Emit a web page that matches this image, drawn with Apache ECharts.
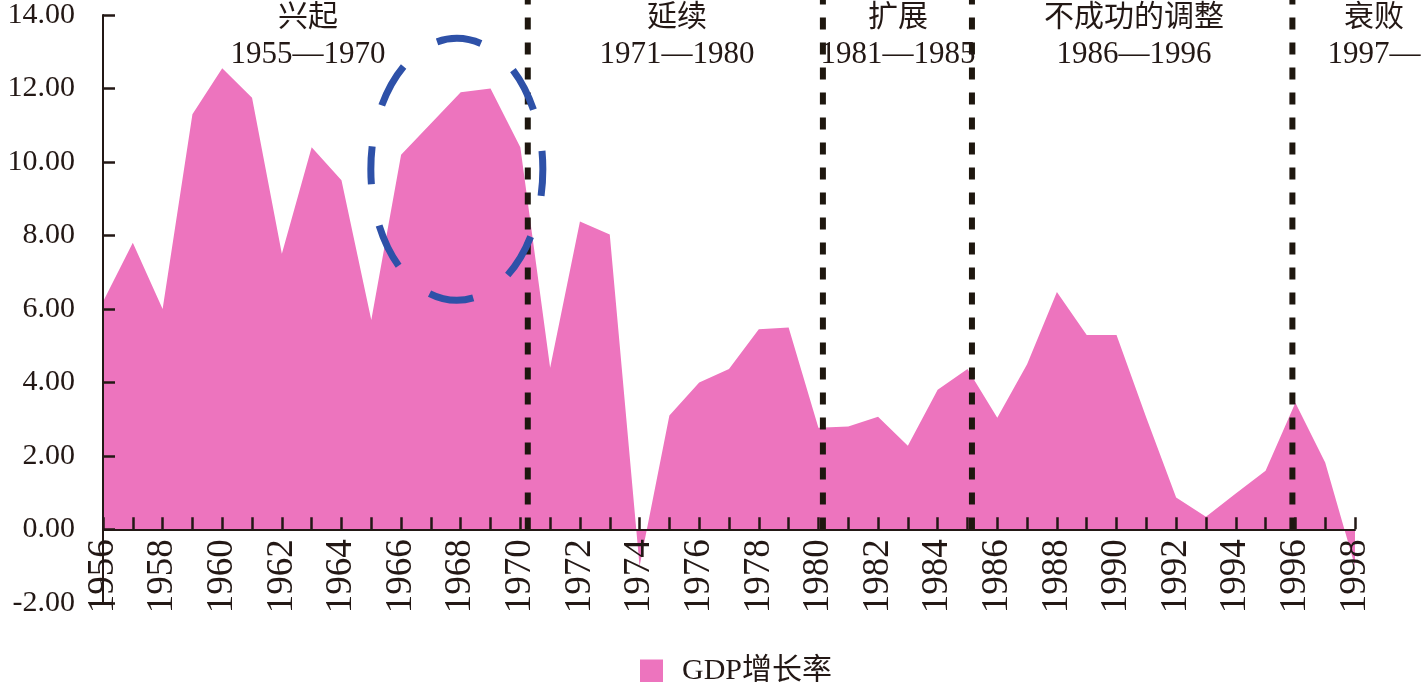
<!DOCTYPE html>
<html>
<head>
<meta charset="utf-8">
<script src="https://cdn.jsdelivr.net/npm/echarts@6/dist/echarts.min.js"></script>
<style>
    html, body { margin: 0; padding: 0; background: #fff; }
    #chart { width: 1422px; height: 682px; }
</style>
</head>
<body>
<div id="chart"></div>
<script type="text/javascript">
    // 数据
    var years = [1956, 1957, 1958, 1959, 1960, 1961, 1962, 1963, 1964, 1965,
                 1966, 1967, 1968, 1969, 1970, 1971, 1972, 1973, 1974, 1975,
                 1976, 1977, 1978, 1979, 1980, 1981, 1982, 1983, 1984, 1985,
                 1986, 1987, 1988, 1989, 1990, 1991, 1992, 1993, 1994, 1995,
                 1996, 1997, 1998];
    var gdpGrowth = [6.2, 7.8, 6.0, 11.3, 12.55, 11.75, 7.5, 10.4, 9.5, 5.7,
                     10.2, 11.05, 11.9, 12.0, 10.4, 4.4, 8.38, 8.03, -1.0, 3.1,
                     4.0, 4.37, 5.45, 5.5, 2.77, 2.8, 3.07, 2.28, 3.8, 4.37,
                     3.04, 4.5, 6.46, 5.29, 5.29, 3.04, 0.87, 0.35, 0.98, 1.6,
                     3.45, 1.82, -1.0];
    var yTicks = [-2, 0, 2, 4, 6, 8, 10, 12, 14];
    // 阶段分界
    var boundaries = [1970.25, 1980.15, 1985.15, 1995.9];
    var periods = [
        {name: "兴起", range: "1955—1970", x: 308},
        {name: "延续", range: "1971—1980", x: 677},
        {name: "扩展", range: "1981—1985", x: 898},
        {name: "不成功的调整", range: "1986—1996", x: 1134},
        {name: "衰败", range: "1997—", x: 1374}
    ];

    var serif = "'Liberation Serif', 'Noto Sans CJK SC', serif";
    var ink = "#231815";
    var pink = "#ED74BE";

    var gridTop = 13, gridBottom = 79, chartH = 682;
    var yMin = yTicks[0], yMax = yTicks[yTicks.length - 1];
    // x轴放在0处
    var zeroOffset = (chartH - gridTop - gridBottom) * (0 - yMin) / (yMax - yMin);

    var myChart = echarts.init(document.getElementById('chart'));

    var seriesData = years.map(function (y, i) { return [y, gdpGrowth[i]]; });

    myChart.setOption({
        animation: false,
        grid: { left: 103, right: 67, top: gridTop, bottom: gridBottom },
        legend: {
            data: ["GDP增长率"],
            left: 635,
            top: 651,
            icon: "rect",
            itemWidth: 23,
            itemHeight: 23,
            selectedMode: false,
            textStyle: { fontFamily: serif, fontSize: 30, color: ink, padding: [0, 0, 0, 14] }
        },
        xAxis: {
            type: "value",
            position: "bottom",
            offset: -zeroOffset,
            min: years[0],
            max: years[years.length - 1],
            interval: 1,
            zlevel: 1,
            splitLine: { show: false },
            axisLine: { show: true, onZero: false, lineStyle: { color: ink, width: 2 } },
            axisTick: { show: true, inside: true, length: 12, lineStyle: { color: ink, width: 2.5 } },
            axisLabel: {
                rotate: 90,
                margin: 10,
                fontFamily: serif,
                fontSize: 37,
                color: ink,
                showMinLabel: true,
                showMaxLabel: true,
                formatter: function (v) { return v % 2 === 0 ? String(v) : ""; }
            }
        },
        yAxis: {
            type: "value",
            min: yMin,
            max: yMax,
            interval: 2,
            zlevel: 1,
            splitLine: { show: false },
            axisLine: { show: true, onZero: false, lineStyle: { color: ink, width: 2 } },
            axisTick: { show: true, inside: true, length: 12, lineStyle: { color: ink, width: 2.5 } },
            axisLabel: {
                margin: 28,
                fontFamily: serif,
                fontSize: 30,
                color: ink,
                formatter: function (v) { return v.toFixed(2); }
            }
        },
        series: [{
            name: "GDP增长率",
            type: "line",
            data: seriesData,
            symbol: "none",
            itemStyle: { color: pink },
            lineStyle: { width: 0, color: pink },
            areaStyle: { color: pink, opacity: 1 }
        }]
    });

    // 分界虚线、阶段标注、圈
    var graphics = [];
    var zeroY = myChart.convertToPixel({gridIndex: 0}, [years[0], 0])[1];
    boundaries.forEach(function (b) {
        var px = myChart.convertToPixel({gridIndex: 0}, [b, 0])[0];
        graphics.push({
            type: "line",
            shape: { x1: px, y1: zeroY, x2: px, y2: 0 },
            style: { stroke: "#1e170f", lineWidth: 6, lineDash: [12, 13] },
            z: 10
        });
    });
    periods.forEach(function (p) {
        graphics.push({
            type: "text",
            x: p.x, y: 3,
            style: { text: p.name, font: "30px " + serif, fill: ink, textAlign: "center", textVerticalAlign: "top" },
            z: 11
        });
        graphics.push({
            type: "text",
            x: p.x, y: 39,
            style: { text: p.range, font: "31px " + serif, fill: ink, textAlign: "center", textVerticalAlign: "top" },
            z: 11
        });
    });
    var c = myChart.convertToPixel({gridIndex: 0}, [1967.87, 9.8]);
    graphics.push({
        type: "ellipse",
        shape: { cx: c[0], cy: c[1], rx: 86, ry: 131 },
        style: { fill: null, stroke: "#2E51A8", lineWidth: 7, lineDash: [45, 42], lineDashOffset: 22 },
        z: 12
    });
    myChart.setOption({ graphic: graphics });

    window.addEventListener("resize", function () { myChart.resize(); });
</script>
</body>
</html>
